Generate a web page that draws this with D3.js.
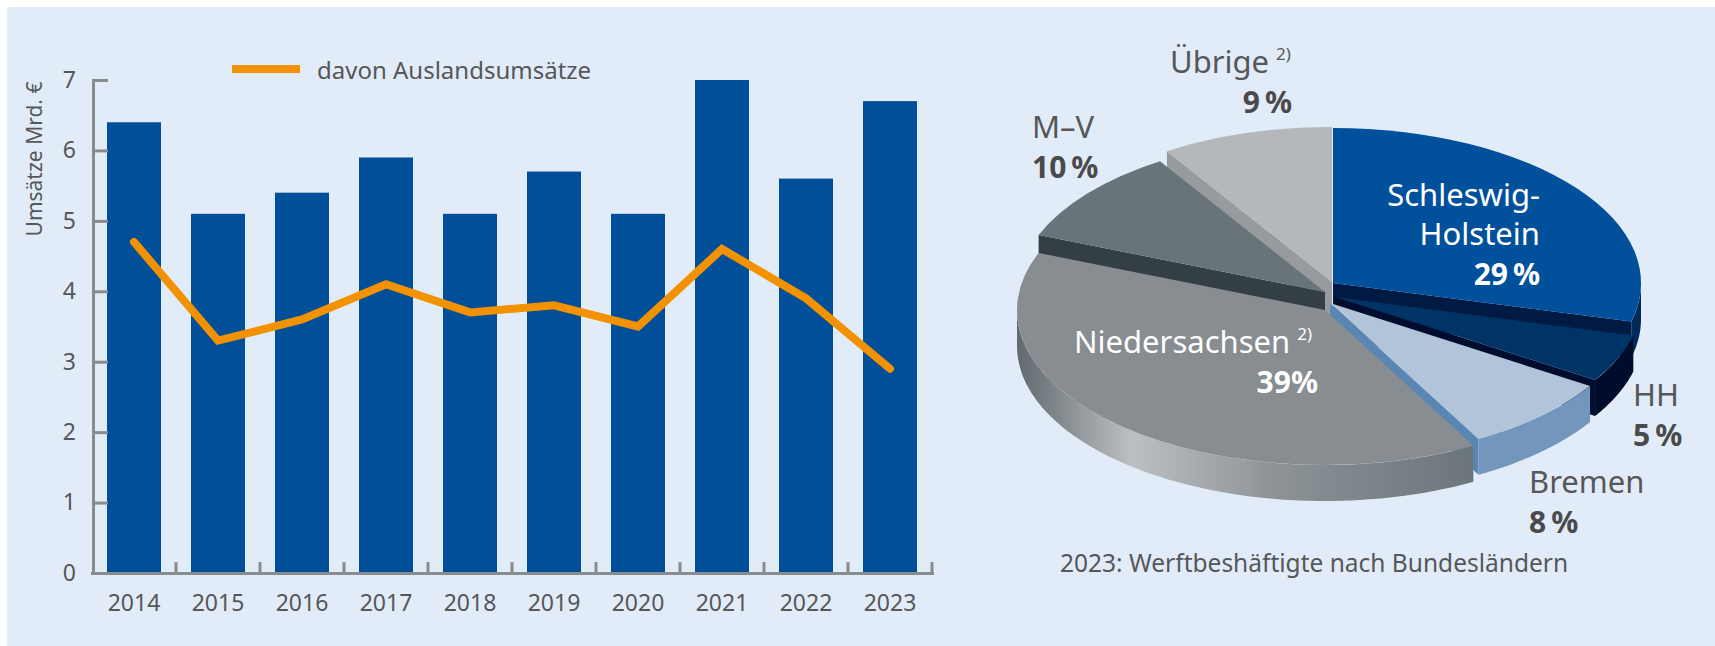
<!DOCTYPE html>
<html>
<head>
<meta charset="utf-8">
<script src="https://cdn.jsdelivr.net/npm/d3@7"></script>
<style>
  body { margin: 0; background: #fff; }
  text { font-family: "Noto Sans", sans-serif; }
</style>
</head>
<body>
<div id="canvas"></div>
<script>
// data
var years   = [2014, 2015, 2016, 2017, 2018, 2019, 2020, 2021, 2022, 2023];
var umsatz  = [6.4, 5.1, 5.4, 5.9, 5.1, 5.7, 5.1, 7.0, 5.6, 6.7];
var ausland = [4.7, 3.3, 3.6, 4.1, 3.7, 3.8, 3.5, 4.6, 3.9, 2.9];
var yTicks  = [0, 1, 2, 3, 4, 5, 6, 7];
var lineName = 'davon Auslandsumsätze';
var yTitle = 'Umsätze Mrd. €';

var regions = ['Schleswig-Holstein', 'HH', 'Bremen', 'Niedersachsen', 'M-V', 'Übrige'];
var shares  = [29, 5, 8, 39, 10, 9];
var pieCaption = '2023: Werftbeshäftigte nach Bundesländern';

var W = 1715, H = 646;
var grey = '#555759', axisGrey = '#878c8f';

var svg = d3.select('#canvas').append('svg')
  .attr('width', W).attr('height', H);

svg.append('rect').attr('x', 7).attr('y', 7).attr('width', W - 7).attr('height', H - 7)
  .attr('fill', '#e2ecf8');

// ---------- bar chart ----------
var x = d3.scaleBand().domain(years).range([92, 932])
  .paddingInner(0.357).paddingOuter(0.1785);
var y = d3.scaleLinear().domain([0, 7]).range([573, 80]);

var barData = years.map(function (yr, i) { return {year: yr, v: umsatz[i], a: ausland[i]}; });

svg.append('g').selectAll('rect')
  .data(barData).enter().append('rect')
  .attr('x', d => x(d.year))
  .attr('y', d => y(d.v))
  .attr('width', x.bandwidth())
  .attr('height', d => y(0) - y(d.v))
  .attr('fill', '#004f98');

var yAxis = svg.append('g').attr('transform', 'translate(93,0)')
  .call(d3.axisLeft(y).tickValues(yTicks).tickFormat(d3.format('d'))
    .tickSize(-15).tickSizeOuter(0).tickPadding(17));
var xAxis = svg.append('g').attr('transform', 'translate(0,' + y(0) + ')')
  .call(d3.axisBottom(x).tickSize(0).tickSizeOuter(0).tickPadding(22));

[yAxis, xAxis].forEach(function (g) {
  g.select('.domain').attr('stroke', axisGrey).attr('stroke-width', 3).attr('stroke-linecap', 'square');
  g.selectAll('.tick line').attr('stroke', axisGrey).attr('stroke-width', 3);
  g.selectAll('.tick text').attr('fill', grey).style('font-size', '23px')
    .style('font-family', '"Noto Sans", sans-serif');
});

// boundary ticks between the bars
svg.append('g').selectAll('line')
  .data(d3.range(1, years.length + 1)).enter().append('line')
  .attr('x1', i => x.range()[0] + i * x.step())
  .attr('x2', i => x.range()[0] + i * x.step())
  .attr('y1', y(0)).attr('y2', y(0) - 11)
  .attr('stroke', axisGrey).attr('stroke-width', 3);

var line = d3.line()
  .x(d => x(d.year) + x.bandwidth() / 2)
  .y(d => y(d.a));

svg.append('path').attr('d', line(barData))
  .attr('fill', 'none').attr('stroke', '#f39200').attr('stroke-width', 8)
  .attr('stroke-linejoin', 'miter').attr('stroke-linecap', 'round');

// legend
svg.append('line').attr('x1', 232).attr('x2', 300).attr('y1', 69).attr('y2', 69)
  .attr('stroke', '#f39200').attr('stroke-width', 8);
svg.append('text').attr('x', 317).attr('y', 79).attr('fill', grey)
  .style('font-size', '24px').text(lineName);

svg.append('text').attr('transform', 'translate(34,159) rotate(-90)')
  .attr('text-anchor', 'middle').attr('dominant-baseline', 'central')
  .attr('fill', grey).style('font-size', '21px').text(yTitle);

// ---------- 3D pie ----------
var pc = {cx: 1333, cy: 283, rx: 308, ry: 155, depth: 36};
// per slice offset, top colour, radial wall colour, outer wall colour
var sliceStyle = [
  {dx: 0,  dy: 0,  top: '#00509b', wall: '#001a44', side: '#002a5c'},
  {dx: 2,  dy: 14, top: '#003366', wall: '#000d2e', side: '#000c2c'},
  {dx: -3, dy: 20, top: '#b1c4da', wall: '#5a86b4', side: '#7396bc'},
  {dx: -8, dy: 27, top: '#878d90', wall: '#4f585d', side: 'url(#nsGrad)'},
  {dx: -8, dy: 9,  top: '#687479', wall: '#343f45', side: '#4a555a'},
  {dx: -1, dy: -1, top: '#b4b8bb', wall: '#979b9e', side: '#979b9e'}
];

var defs = svg.append('defs');
var grad = defs.append('linearGradient').attr('id', 'nsGrad')
  .attr('gradientUnits', 'userSpaceOnUse')
  .attr('x1', pc.cx - pc.rx - 10).attr('x2', pc.cx + 150).attr('y1', 0).attr('y2', 0);
[[0, '#5f686d'], [0.25, '#bcc0c3'], [0.55, '#8d9397'], [1, '#69747a']].forEach(function (s) {
  grad.append('stop').attr('offset', s[0]).attr('stop-color', s[1]);
});

var pie = d3.pie().sort(null).value(d => d);
var arcs = pie(shares);

function pt(a, ox, oy, down) {
  return [pc.cx + ox + pc.rx * Math.sin(a), pc.cy + oy - pc.ry * Math.cos(a) + (down || 0)];
}

var walls = [];
arcs.forEach(function (a, i) {
  var s = sliceStyle[i];
  var ax = pc.cx + s.dx, ay = pc.cy + s.dy;
  function radial(ang) {
    var p = pt(ang, s.dx, s.dy);
    return {pts: [[ax, ay], p, [p[0], p[1] + pc.depth], [ax, ay + pc.depth]],
            key: (ay + p[1]) / 2, fill: s.wall};
  }
  if (Math.sin(a.startAngle) < -1e-6) walls.push(radial(a.startAngle));
  if (Math.sin(a.endAngle) > 1e-6) walls.push(radial(a.endAngle));
  var lo = Math.max(a.startAngle, Math.PI / 2), hi = Math.min(a.endAngle, 3 * Math.PI / 2);
  if (hi > lo) {
    var topPts = d3.range(0, 61).map(k => pt(lo + (hi - lo) * k / 60, s.dx, s.dy));
    var botPts = topPts.slice().reverse().map(p => [p[0], p[1] + pc.depth]);
    walls.push({pts: topPts.concat(botPts), key: d3.mean(topPts, p => p[1]), fill: s.side});
  }
});
walls.sort((p, q) => p.key - q.key);

svg.append('g').selectAll('path').data(walls).enter().append('path')
  .attr('d', d => 'M' + d.pts.map(p => p.join(',')).join('L') + 'Z')
  .attr('fill', d => d.fill);

var arcGen = d3.arc().innerRadius(0).outerRadius(pc.rx);
var tops = arcs.map((a, i) => ({a: a, s: sliceStyle[i]}))
  .sort((p, q) => p.s.dy - q.s.dy);
svg.append('g').selectAll('path').data(tops).enter().append('path')
  .attr('transform', d => 'translate(' + (pc.cx + d.s.dx) + ',' + (pc.cy + d.s.dy) + ') scale(1,' + (pc.ry / pc.rx) + ')')
  .attr('d', d => arcGen(d.a))
  .attr('fill', d => d.s.top);

// pie labels
var thin = '\u2009';
var labelLayout = [
  {lines: ['Schleswig-', 'Holstein'], x: 1540, y: 206, anchor: 'end', color: '#ffffff', pct: '#ffffff'},
  {lines: ['HH'], x: 1633, y: 406, anchor: 'start', color: grey, pct: '#4a4a4a'},
  {lines: ['Bremen'], x: 1529, y: 493, anchor: 'start', color: grey, pct: '#4a4a4a'},
  {lines: ['Niedersachsen'], sup: true, x: 1074, y: 353, px: 1318, anchor: 'start', pAnchor: 'end', color: '#ffffff', pct: '#ffffff', noThin: true},
  {lines: ['M–V'], x: 1032, y: 138, anchor: 'start', color: grey, pct: '#4a4a4a'},
  {lines: ['Übrige'], sup: true, x: 1170, y: 73, px: 1292, anchor: 'start', pAnchor: 'end', color: grey, pct: '#4a4a4a'}
];

labelLayout.forEach(function (l, i) {
  l.lines.forEach(function (txt, k) {
    var t = svg.append('text').attr('x', l.x).attr('y', l.y + k * 39)
      .attr('text-anchor', l.anchor).attr('fill', l.color)
      .style('font-size', '31px').text(txt);
    if (l.sup) {
      t.append('tspan').attr('dx', 7).attr('dy', -13).style('font-size', '17px').text('2)');
    }
  });
  svg.append('text')
    .attr('x', l.px || l.x).attr('y', l.y + l.lines.length * 39 + 1)
    .attr('text-anchor', l.pAnchor || l.anchor).attr('fill', l.pct)
    .style('font-size', '30px').style('font-weight', 'bold')
    .text(shares[i] + (l.noThin ? '' : thin) + '%');
});

svg.append('text').attr('x', 1060).attr('y', 572).attr('fill', grey)
  .style('font-size', '24.5px').text(pieCaption);
</script>
</body>
</html>
